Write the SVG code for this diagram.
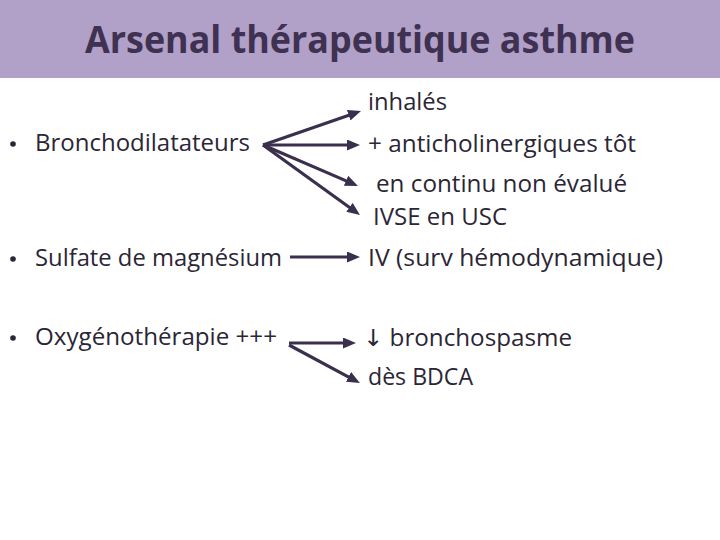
<svg xmlns="http://www.w3.org/2000/svg" width="720" height="540" viewBox="0 0 720 540">
<defs>
<style>
.t{font-family:"Open Sans","Noto Sans","DejaVu Sans",sans-serif;font-size:23.5px;fill:#2B2636}
.title{font-family:"Open Sans","Noto Sans",sans-serif;font-size:37px;font-weight:bold;fill:#3F3151}
.c{stroke:#3B2F4E;stroke-width:3.2;fill:none;marker-end:url(#ah)}
.b{fill:#2B2636}
</style>
<marker id="ah" markerUnits="userSpaceOnUse" markerWidth="13" markerHeight="11" refX="4" refY="5.5" orient="auto" viewBox="0 0 13 11">
<path d="M0,0 L13,5.5 L0,11 z" fill="#3B2F4E"/>
</marker>
</defs>
<rect width="720" height="540" fill="#ffffff"/>
<g id="title">
<rect x="0" y="0" width="720" height="78" fill="#B1A0C7"/>
<text class="title" x="85" y="53" textLength="550" lengthAdjust="spacingAndGlyphs">Arsenal thérapeutique asthme</text>
</g>
<g id="n-broncho"><circle class="b" cx="13" cy="144" r="2.8"/><text class="t" x="35" y="151" textLength="215" lengthAdjust="spacingAndGlyphs">Bronchodilatateurs</text></g>
<g id="n-sulfate"><circle class="b" cx="13" cy="259" r="2.8"/><text class="t" x="35" y="266" textLength="247" lengthAdjust="spacingAndGlyphs">Sulfate de magnésium</text></g>
<g id="n-oxy"><circle class="b" cx="13" cy="338" r="2.8"/><text class="t" x="35" y="345" textLength="242" lengthAdjust="spacingAndGlyphs">Oxygénothérapie +++</text></g>
<g id="n-inhales"><text class="t" x="368" y="110" textLength="79" lengthAdjust="spacingAndGlyphs">inhalés</text></g>
<g id="n-antichol"><text class="t" x="368" y="152" textLength="268" lengthAdjust="spacingAndGlyphs">+ anticholinergiques tôt</text></g>
<g id="n-continu"><text class="t" x="376" y="192" textLength="251" lengthAdjust="spacingAndGlyphs">en continu non évalué</text></g>
<g id="n-ivse"><text class="t" x="373" y="225" textLength="134" lengthAdjust="spacingAndGlyphs">IVSE en USC</text></g>
<g id="n-iv"><text class="t" x="368" y="266" textLength="295" lengthAdjust="spacingAndGlyphs">IV (surv hémodynamique)</text></g>
<g id="n-broncho2"><text class="t" x="363" y="346" textLength="209" lengthAdjust="spacingAndGlyphs">↓ bronchospasme</text></g>
<g id="n-bdca"><text class="t" x="368" y="385" textLength="105" lengthAdjust="spacingAndGlyphs">dès BDCA</text></g>
<g id="connectors">
<line class="c" x1="263" y1="145" x2="352.5" y2="113.9"/>
<line class="c" x1="263" y1="145" x2="351" y2="145"/>
<line class="c" x1="263" y1="145" x2="349.7" y2="182.4"/>
<line class="c" x1="263" y1="145" x2="352.7" y2="209.7"/>
<line class="c" x1="290" y1="257" x2="351" y2="257"/>
<line class="c" x1="289" y1="343" x2="347" y2="343"/>
<line class="c" x1="289" y1="345" x2="352" y2="378.8"/>
</g>
</svg>
